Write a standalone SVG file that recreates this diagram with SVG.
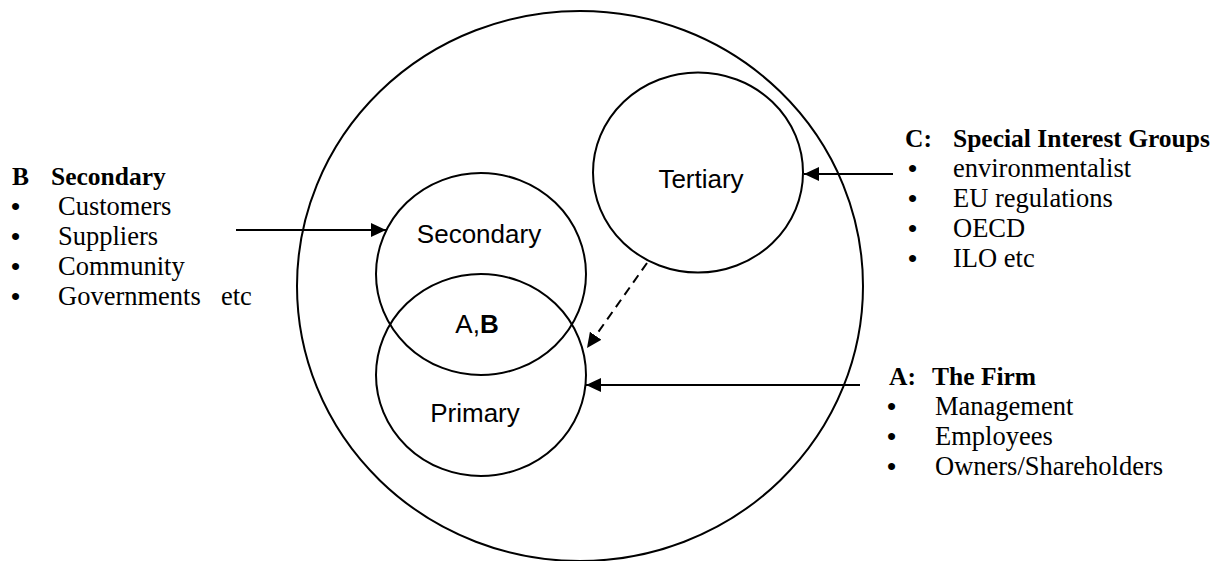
<svg xmlns="http://www.w3.org/2000/svg" width="1222" height="561" viewBox="0 0 1222 561">
<style>
.c{fill:none;stroke:#000;stroke-width:2}
.ln{fill:none;stroke:#000;stroke-width:2}
.lb{font-family:"Liberation Sans",Arial,sans-serif;font-size:26px;fill:#000;text-anchor:middle}
.t{font-family:"Liberation Serif","Times New Roman",serif;font-size:26.5px;fill:#000}
.b{font-weight:bold;font-size:25.5px}
.u{font-family:"Liberation Serif","Times New Roman",serif;font-size:26px;font-weight:bold;fill:#000}
</style>
<defs>
<marker id="ah" markerUnits="userSpaceOnUse" markerWidth="15" markerHeight="14" refX="15" refY="7" orient="auto">
<path d="M0,0 L15,7 L0,14 Z" fill="#000"/>
</marker>
</defs>
<g id="outer"><ellipse class="c" cx="580" cy="286" rx="283" ry="275"/></g>
<g id="secondary"><ellipse class="c" cx="481" cy="274" rx="105" ry="101"/><text class="lb" x="479" y="243">Secondary</text></g>
<g id="primary"><ellipse class="c" cx="481" cy="375" rx="105" ry="101"/><text class="lb" x="475" y="422">Primary</text></g>
<g id="overlap"><text class="lb" x="477" y="333">A,<tspan font-weight="bold">B</tspan></text></g>
<g id="tertiary"><ellipse class="c" cx="698" cy="172.5" rx="105" ry="100"/><text class="lb" x="701" y="188">Tertiary</text></g>
<g id="connectors">
<line class="ln" x1="236" y1="230" x2="386" y2="230" marker-end="url(#ah)"/>
<line class="ln" x1="893" y1="174" x2="804" y2="174" marker-end="url(#ah)"/>
<line class="ln" x1="860" y1="385" x2="586" y2="385" marker-end="url(#ah)"/>
<line class="ln" x1="647" y1="263" x2="587" y2="348" stroke-dasharray="9,6" marker-end="url(#ah)"/>
</g>
<g id="groupB">
<text class="t b" x="12" y="185">B</text><text class="t b" x="51" y="185">Secondary</text>
<text class="u" x="11" y="215">•</text><text class="t" x="58" y="215">Customers</text>
<text class="u" x="11" y="245">•</text><text class="t" x="58" y="245">Suppliers</text>
<text class="u" x="11" y="275">•</text><text class="t" x="58" y="275">Community</text>
<text class="u" x="11" y="305">•</text><text class="t" x="58" y="305">Governments</text><text class="t" x="221" y="305">etc</text>
</g>
<g id="groupC">
<text class="t b" x="905" y="147">C:</text><text class="t b" x="953" y="147">Special Interest Groups</text>
<text class="u" x="908" y="177">•</text><text class="t" x="953" y="177">environmentalist</text>
<text class="u" x="908" y="207">•</text><text class="t" x="953" y="207">EU regulations</text>
<text class="u" x="908" y="237">•</text><text class="t" x="953" y="237">OECD</text>
<text class="u" x="908" y="267">•</text><text class="t" x="953" y="267">ILO etc</text>
</g>
<g id="groupA">
<text class="t b" x="889" y="385">A:</text><text class="t b" x="932" y="385">The Firm</text>
<text class="u" x="887" y="415">•</text><text class="t" x="935" y="415">Management</text>
<text class="u" x="887" y="445">•</text><text class="t" x="935" y="445">Employees</text>
<text class="u" x="887" y="475">•</text><text class="t" x="935" y="475">Owners/Shareholders</text>
</g>
</svg>
